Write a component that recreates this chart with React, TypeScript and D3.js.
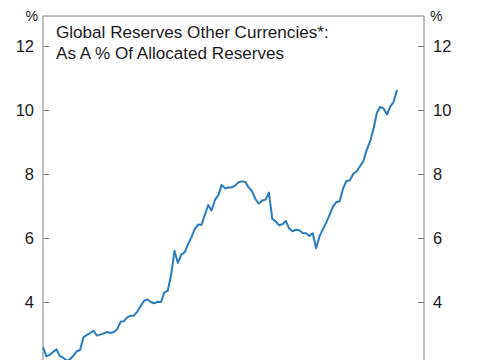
import * as d3 from "d3";
import { useEffect, useRef } from "react";

// Other currencies share of allocated reserves, %, quarterly
const shareValues = [
  2.58, 2.3, 2.35, 2.44, 2.52, 2.31, 2.26, 2.16, 2.21, 2.32,
  2.46, 2.5, 2.9, 2.97, 3.03, 3.1, 2.95, 2.98, 3.02, 3.06,
  3.03, 3.06, 3.15, 3.38, 3.4, 3.52, 3.57, 3.58, 3.7, 3.88,
  4.04, 4.08, 4.0, 3.96, 4.01, 4.0, 4.3, 4.35, 4.85, 5.6,
  5.22, 5.48, 5.55, 5.8, 6.02, 6.28, 6.42, 6.41, 6.72, 7.03,
  6.86, 7.19, 7.34, 7.66, 7.55, 7.58, 7.58, 7.64, 7.74, 7.77,
  7.75, 7.58, 7.46, 7.22, 7.07, 7.17, 7.2, 7.42, 6.6, 6.52,
  6.4, 6.43, 6.53, 6.3, 6.21, 6.26, 6.24, 6.16, 6.15, 6.06,
  6.15, 5.68, 6.05, 6.27, 6.48, 6.72, 6.98, 7.12, 7.15, 7.55,
  7.78, 7.8, 8.0, 8.08, 8.24, 8.4, 8.75, 9.01, 9.4, 9.9,
  10.1, 10.05, 9.86, 10.1, 10.26, 10.63,
];

const yTicks = [2, 4, 6, 8, 10, 12];
const titleLines = [
  "Global Reserves Other Currencies*:",
  "As A % Of Allocated Reserves",
];
const unitLabel = "%";

export default function App() {
  const svgRef = useRef<SVGSVGElement | null>(null);
  const width = 485;
  const height = 360;

  useEffect(() => {
    const svg = d3.select(svgRef.current);
    svg.selectAll("*").remove();

    const margin = { top: 16, left: 43, right: 61 };
    const plotRight = width - margin.right;

    const xScale = d3.scaleLinear().domain([0, 113]).range([margin.left, plotRight]);
    const yScale = d3.scaleLinear().domain([2, 12]).range([366, 46]);

    const font = "'Liberation Sans', Arial, sans-serif";
    const frameColor = "#808080";
    const textColor = "#1a1a1a";

    // Frame (top, left, right)
    svg
      .append("path")
      .attr(
        "d",
        `M${margin.left},${height + 20}V${margin.top}H${plotRight}V${height + 20}`,
      )
      .attr("fill", "none")
      .attr("stroke", frameColor)
      .attr("stroke-width", 1);

    // Inner ticks on both sides
    const leftAxis = d3
      .axisRight(yScale)
      .tickValues(yTicks)
      .tickSize(6)
      .tickFormat(() => "");
    svg
      .append("g")
      .attr("transform", `translate(${margin.left},0)`)
      .call(leftAxis)
      .call((g) => g.select(".domain").remove())
      .call((g) => g.selectAll("line").attr("stroke", frameColor));

    const rightAxis = d3
      .axisLeft(yScale)
      .tickValues(yTicks)
      .tickSize(6)
      .tickFormat(() => "");
    svg
      .append("g")
      .attr("transform", `translate(${plotRight},0)`)
      .call(rightAxis)
      .call((g) => g.select(".domain").remove())
      .call((g) => g.selectAll("line").attr("stroke", frameColor));

    // Tick labels
    svg
      .append("g")
      .selectAll("text")
      .data(yTicks)
      .join("text")
      .attr("x", 34)
      .attr("y", (d) => yScale(d))
      .attr("dy", "0.36em")
      .attr("text-anchor", "end")
      .attr("font-family", font)
      .attr("font-size", 16.5)
      .attr("fill", textColor)
      .text((d) => d);

    svg
      .append("g")
      .selectAll("text")
      .data(yTicks)
      .join("text")
      .attr("x", 433)
      .attr("y", (d) => yScale(d))
      .attr("dy", "0.36em")
      .attr("text-anchor", "start")
      .attr("font-family", font)
      .attr("font-size", 16.5)
      .attr("fill", textColor)
      .text((d) => d);

    // Unit labels
    svg
      .append("text")
      .attr("x", 38)
      .attr("y", 20.5)
      .attr("text-anchor", "end")
      .attr("font-family", font)
      .attr("font-size", 14)
      .attr("fill", textColor)
      .text(unitLabel);
    svg
      .append("text")
      .attr("x", 430)
      .attr("y", 20.5)
      .attr("text-anchor", "start")
      .attr("font-family", font)
      .attr("font-size", 14)
      .attr("fill", textColor)
      .text(unitLabel);

    // Title
    svg
      .append("g")
      .selectAll("text")
      .data(titleLines)
      .join("text")
      .attr("x", 56)
      .attr("y", (d, i) => 37.5 + i * 21)
      .attr("font-family", font)
      .attr("font-size", 17.1)
      .attr("fill", textColor)
      .text((d) => d);

    // Line
    const line = d3
      .line<number>()
      .x((d, i) => xScale(i))
      .y((d) => yScale(d));

    svg
      .append("path")
      .datum(shareValues)
      .attr("fill", "none")
      .attr("stroke", "#2b7bbf")
      .attr("stroke-width", 2)
      .attr("stroke-linejoin", "round")
      .attr("d", line);
  }, []);

  return (
    <svg
      ref={svgRef}
      width={width}
      height={height}
      style={{ position: "absolute", left: 0, top: 0, background: "#fff" }}
    ></svg>
  );
}
